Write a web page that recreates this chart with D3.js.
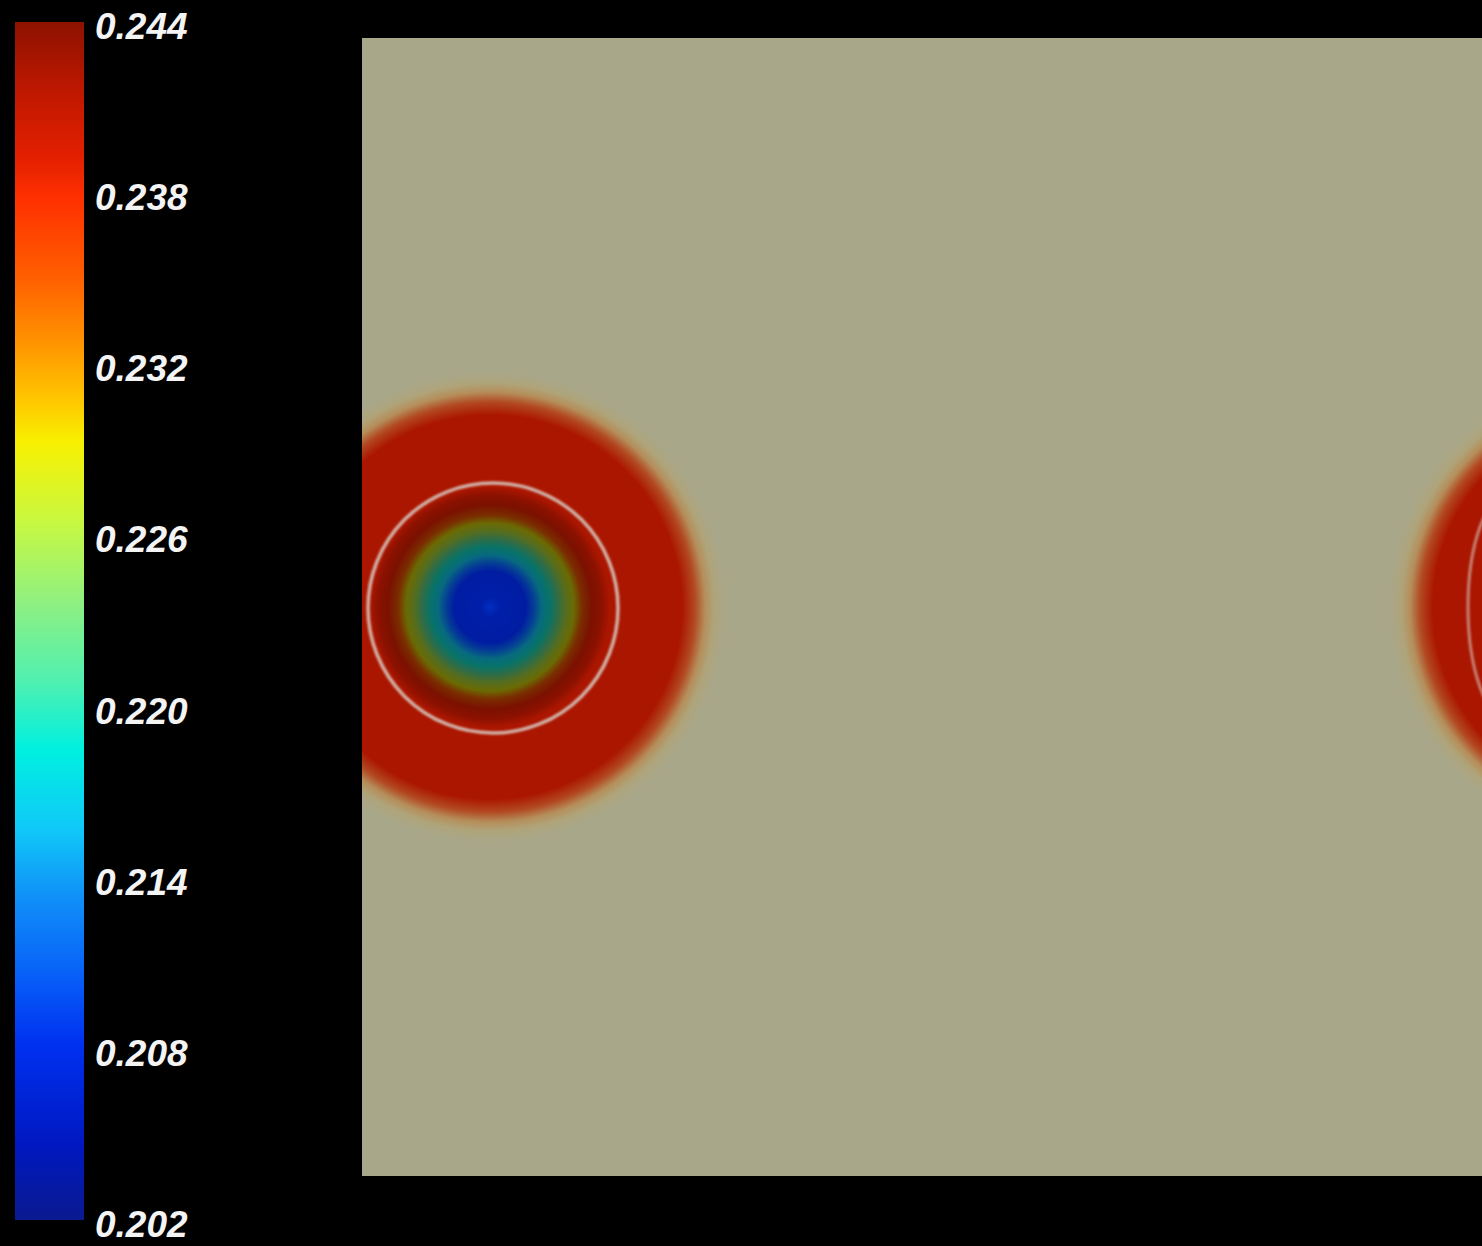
<!DOCTYPE html>
<html>
<head>
<meta charset="utf-8">
<script src="https://cdn.jsdelivr.net/npm/d3@7/dist/d3.min.js"></script>
<style>
  html, body { margin: 0; padding: 0; background: #000; }
  svg { display: block; }
</style>
</head>
<body>
<script>
// Colour map: value -> colour (jet-like, blue low, dark red high)
const cmapValues = [0.2020, 0.2046, 0.2081, 0.2106, 0.2133, 0.2157, 0.2185, 0.2209, 0.2237, 0.2265, 0.2293, 0.2307, 0.2329, 0.2350, 0.2378, 0.2392, 0.2415, 0.2440];
const cmapColors = ["#0a1a90", "#0018c0", "#0030f0", "#0860f8", "#1090f8", "#10c8f8", "#00f0e0", "#50f0b0", "#90f080", "#c8f840", "#f8f000", "#ffc800", "#ff9000", "#ff6000", "#ff3000", "#e42000", "#c01800", "#8c1200"];

// Colour bar tick labels
const tickValues = [0.244, 0.238, 0.232, 0.226, 0.220, 0.214, 0.208, 0.202];

// Radial profile of the field around each drop (radius in field units = px)
const profileRadius = [0, 10, 36, 44, 52, 60, 68, 76, 84, 92, 102, 112, 120, 192];
const profileValue  = [0.2085, 0.2072, 0.2070, 0.2110, 0.2160, 0.2190, 0.2220, 0.2262, 0.2290, 0.2350, 0.2395, 0.2418, 0.2425, 0.2425];
const profileShade  = [0.20, 0.26, 0.28, 0.40, 0.48, 0.52, 0.55, 0.56, 0.56, 0.52, 0.45, 0.25, 0.0, 0.0];

// Edge of the drop blending into the surrounding phase
const edgeRadius = [192, 205, 215, 224, 236];
const edgeMix    = [0, 0.30, 0.62, 0.85, 1];

// Drop centres (field coordinates) and interface contour radius
const dropX = [128, 1263];
const dropY = [569, 569];
const interfaceRadius = 125;

const W = 1482, H = 1246;
const fieldW = 1120, fieldH = 1138;
const fieldLeft = 362, fieldTop = 38;
const background = "#a8a78a";
const haloColor = "#b8a468";

const color = d3.scaleLinear().domain(cmapValues).range(cmapColors)
  .interpolate(d3.interpolateRgb).clamp(true);

const svg = d3.select("body").append("svg")
  .attr("width", W).attr("height", H)
  .style("background", "#000");
const defs = svg.append("defs");

// ---- colour bar ----
const barX = 15, barW = 69;
const barY = d3.scaleLinear().domain([0.202, 0.244]).range([1220, 22]);

const barGrad = defs.append("linearGradient").attr("id", "barGrad")
  .attr("x1", 0).attr("y1", 1).attr("x2", 0).attr("y2", 0);
cmapValues.forEach(v => {
  barGrad.append("stop")
    .attr("offset", (v - 0.202) / (0.244 - 0.202))
    .attr("stop-color", color(v));
});
svg.append("rect")
  .attr("x", barX).attr("y", barY(0.244))
  .attr("width", barW).attr("height", barY(0.202) - barY(0.244))
  .attr("fill", "url(#barGrad)");

svg.append("g").selectAll("text").data(tickValues).join("text")
  .attr("x", 95)
  .attr("y", d => barY(d) + 17)
  .attr("fill", "#f4f4f4")
  .attr("stroke", "#000")
  .attr("stroke-width", 2)
  .attr("paint-order", "stroke")
  .style("font-family", "'Liberation Sans', Arial, sans-serif")
  .style("font-style", "italic")
  .style("font-weight", "bold")
  .style("font-size", "37px")
  .text(d => d3.format(".3f")(d));

// ---- field panel ----
const xs = d3.scaleLinear().domain([0, fieldW]).range([fieldLeft, fieldLeft + fieldW]);
const ys = d3.scaleLinear().domain([0, fieldH]).range([fieldTop, fieldTop + fieldH]);

defs.append("clipPath").attr("id", "fieldClip")
  .append("rect")
  .attr("x", xs(0)).attr("y", ys(0))
  .attr("width", xs(fieldW) - xs(0)).attr("height", ys(fieldH) - ys(0));

const rMax = edgeRadius[edgeRadius.length - 1];
const dropGrad = defs.append("radialGradient").attr("id", "dropGrad")
  .attr("cx", 0.5).attr("cy", 0.5).attr("r", 0.5);
profileRadius.forEach((r, i) => {
  const c = d3.interpolateRgb(color(profileValue[i]), "#000")(profileShade[i]);
  dropGrad.append("stop").attr("offset", r / rMax).attr("stop-color", c);
});
const outerColor = color(profileValue[profileValue.length - 1]);
const edgeInterp = d3.interpolateRgbBasis([outerColor, "#b44a20", haloColor, background]);
edgeRadius.forEach((r, i) => {
  dropGrad.append("stop").attr("offset", r / rMax)
    .attr("stop-color", edgeInterp(edgeMix[i]));
});

defs.append("filter").attr("id", "soft")
  .append("feGaussianBlur").attr("stdDeviation", 0.8);

const field = svg.append("g").attr("clip-path", "url(#fieldClip)");
field.append("rect")
  .attr("x", xs(0)).attr("y", ys(0))
  .attr("width", xs(fieldW) - xs(0)).attr("height", ys(fieldH) - ys(0))
  .attr("fill", background);

field.selectAll("circle.drop").data(dropX).join("circle")
  .attr("class", "drop")
  .attr("cx", d => xs(d))
  .attr("cy", (d, i) => ys(dropY[i]))
  .attr("r", rMax)
  .attr("fill", "url(#dropGrad)");

// interface contour of the left drop
field.append("circle")
  .attr("cx", xs(dropX[0] + 3)).attr("cy", ys(dropY[0] + 1))
  .attr("r", interfaceRadius)
  .attr("fill", "none")
  .attr("stroke", "#d8ccc4")
  .attr("stroke-width", 3.5)
  .attr("stroke-opacity", 0.85)
  .attr("filter", "url(#soft)");

// interface contour of the right drop, entering from the edge
field.append("ellipse")
  .attr("cx", xs(1146)).attr("cy", ys(dropY[1]))
  .attr("rx", 40).attr("ry", 112)
  .attr("fill", "none")
  .attr("stroke", "#d8ccc4")
  .attr("stroke-width", 3)
  .attr("stroke-opacity", 0.6)
  .attr("filter", "url(#soft)");
</script>
</body>
</html>
